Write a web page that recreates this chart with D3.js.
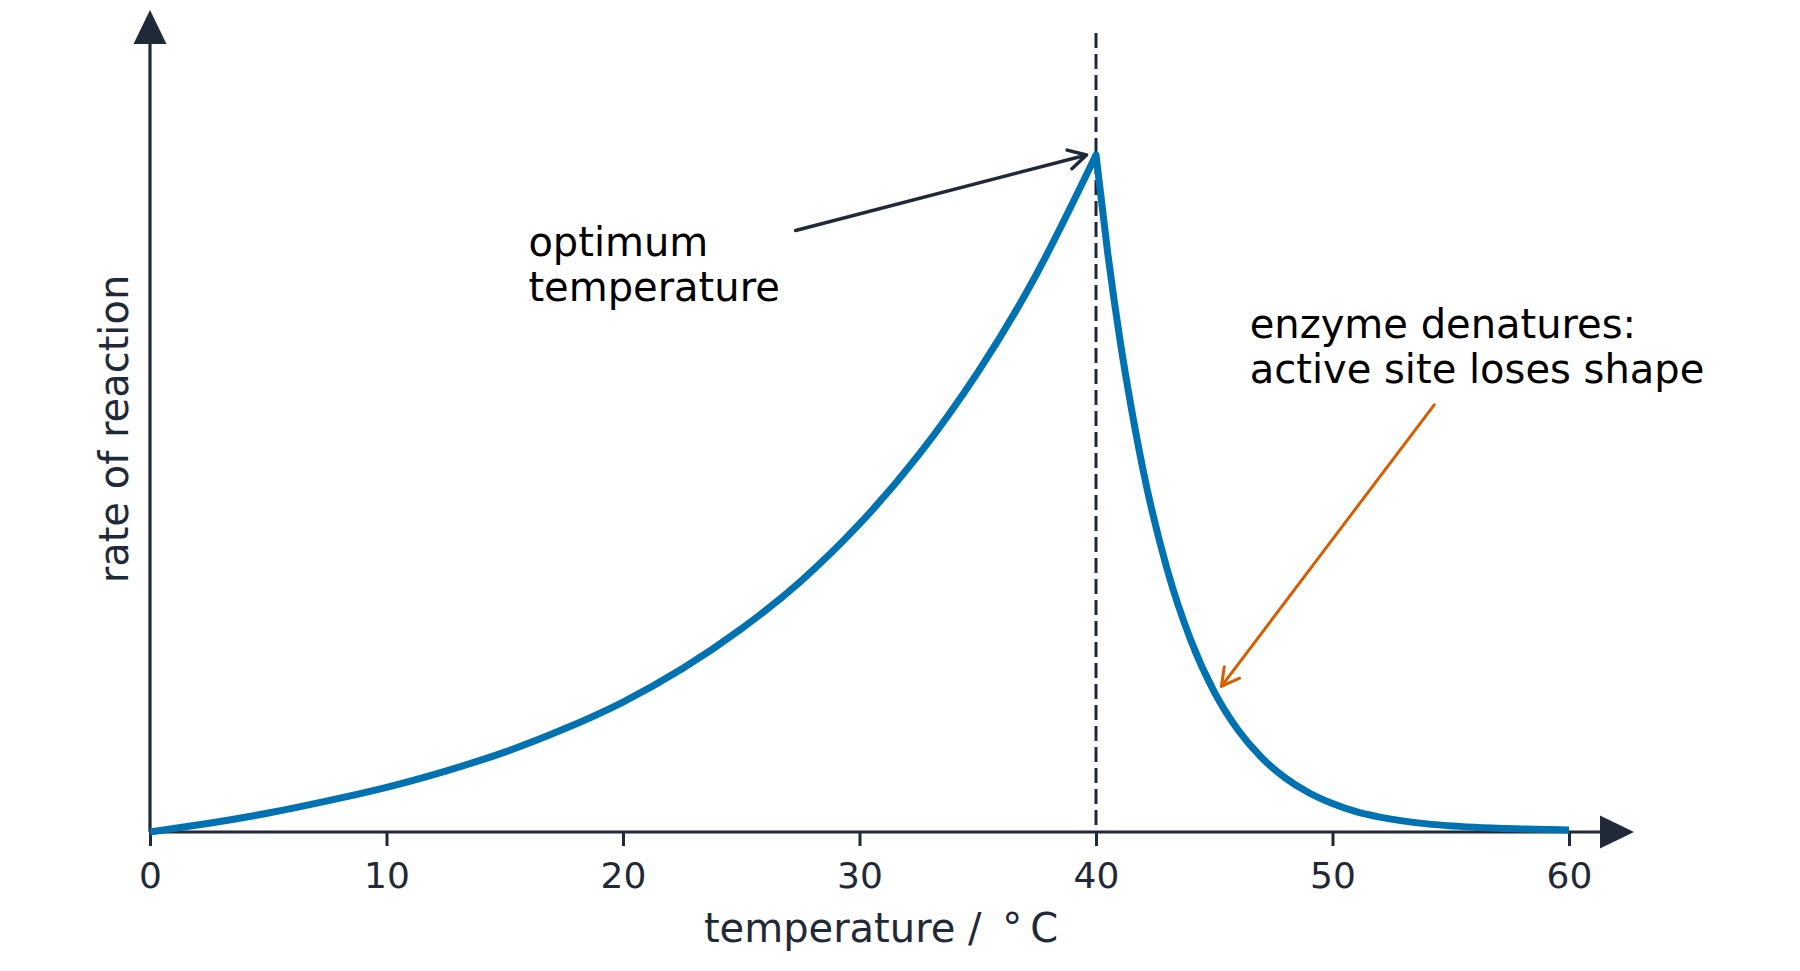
<!DOCTYPE html>
<html lang="en">

<head>
	<meta charset="UTF-8">
	<title>Enzyme activity and temperature</title>
	<script src="https://d3js.org/d3.v7.min.js"></script>
	<style>
		body {
			margin: 0;
			background: #fff;
		}

		text {
			font-family: "DejaVu Sans", sans-serif;
		}
	</style>
</head>

<body>

	<div id="chart"></div>

</body>

<script>

	// temperature (deg C) and rate of reaction (% of the optimum)
	var riseTemp = [0, 2.5, 5, 7.5, 10, 12.5, 15, 17.5, 20, 22.5, 25, 27.5, 30, 32.5, 35, 37.5, 40];
	var riseRate = [0, 1.3, 2.8, 4.6, 6.6, 9.0, 11.8, 15.2, 19.2, 24.1, 30.0, 37.0, 45.5, 55.7, 67.9, 82.5, 100];

	var fallTemp = [40, 40.5, 41, 41.5, 42, 43, 44, 45, 46, 47, 48, 49, 50, 51, 52, 54, 56, 58, 60];
	var fallRate = [100, 85.4, 73, 62.5, 53.3, 38.9, 28.4, 20.7, 15.1, 11.0, 8.0, 5.8, 4.2, 3.0, 2.2, 1.2, 0.7, 0.45, 0.3];

	var xTicks = [0, 10, 20, 30, 40, 50, 60];
	var optimumTemp = 40;

	// annotations, in data units
	var optLabel = ["optimum", "temperature"];
	var optText = [16.0, 85.1];
	var optArrow = [[27.3, 88.85], [39.6, 100]];

	var denLabel = ["enzyme denatures:", "active site loses shape"];
	var denText = [46.5, 73];
	var denArrow = [[54.3, 63.1], [45.3, 21.5]];

	var w = 1800;
	var h = 971;
	var ink = "#1f2937";

	var svg = d3.select("#chart").append("svg")
		.attr("width", w)
		.attr("height", h);

	var x = d3.scaleLinear()
		.domain([0, 60])
		.range([150, 1569]);
	var y = d3.scaleLinear()
		.domain([0, 100])
		.range([832, 155]);

	// x axis with ticks, line drawn separately so it can run into the arrow
	var xAxis = svg.append("g")
		.attr("transform", "translate(0," + y(0) + ")")
		.call(d3.axisBottom(x)
			.tickValues(xTicks)
			.tickSize(14)
			.tickSizeOuter(0)
			.tickPadding(16));
	xAxis.select(".domain").remove();
	xAxis.selectAll(".tick line")
		.attr("stroke", ink)
		.attr("stroke-width", 3);
	xAxis.selectAll(".tick text")
		.attr("fill", ink)
		.style("font-size", "36px")
		.style("font-family", "DejaVu Sans");

	var xEnd = x(60) + 31;
	svg.append("line")
		.attr("x1", x(0)).attr("y1", y(0))
		.attr("x2", xEnd).attr("y2", y(0))
		.attr("stroke", ink)
		.attr("stroke-width", 3.2);
	svg.append("path")
		.attr("d", "M" + xEnd + "," + (y(0) - 16.5) + "L" + (xEnd + 34) + "," + y(0) + "L" + xEnd + "," + (y(0) + 16.5) + "Z")
		.attr("fill", ink);

	var yEnd = 44;
	svg.append("line")
		.attr("x1", x(0)).attr("y1", y(0))
		.attr("x2", x(0)).attr("y2", yEnd)
		.attr("stroke", ink)
		.attr("stroke-width", 3.2);
	svg.append("path")
		.attr("d", "M" + (x(0) - 16.5) + "," + yEnd + "L" + x(0) + "," + (yEnd - 34) + "L" + (x(0) + 16.5) + "," + yEnd + "Z")
		.attr("fill", ink);

	// dashed line at the optimum
	svg.append("line")
		.attr("x1", x(optimumTemp)).attr("y1", 33)
		.attr("x2", x(optimumTemp)).attr("y2", y(0))
		.attr("stroke", ink)
		.attr("stroke-width", 3)
		.attr("stroke-dasharray", "15,6");

	// curve, two branches so the peak stays sharp
	var riseLine = d3.line()
		.x(function (d) { return x(d[0]); })
		.y(function (d) { return y(d[1]); })
		.curve(d3.curveNatural);
	var fallLine = d3.line()
		.x(function (d) { return x(d[0]); })
		.y(function (d) { return y(d[1]); })
		.curve(d3.curveMonotoneX);

	var rise = riseTemp.map(function (t, i) { return [t, riseRate[i]]; });
	var fall = fallTemp.map(function (t, i) { return [t, fallRate[i]]; });

	svg.append("path")
		.attr("d", riseLine(rise) + fallLine(fall).replace(/^M/, "L"))
		.attr("fill", "none")
		.attr("stroke", "#0072b2")
		.attr("stroke-width", 7)
		.attr("stroke-linejoin", "round");

	// axis titles
	svg.append("text")
		.attr("x", 881)
		.attr("y", 942)
		.attr("text-anchor", "middle")
		.attr("fill", ink)
		.style("font-size", "40px")
		.text("temperature / \u2009\u00b0\u2009C");

	svg.append("text")
		.attr("transform", "translate(128,429) rotate(-90)")
		.attr("text-anchor", "middle")
		.attr("fill", ink)
		.style("font-size", "40px")
		.text("rate of reaction");

	// annotations
	function arrow(pts, colour, width) {
		var x1 = x(pts[0][0]), y1 = y(pts[0][1]);
		var x2 = x(pts[1][0]), y2 = y(pts[1][1]);
		var a = Math.atan2(y2 - y1, x2 - x1);
		var len = 20, spread = 0.5;
		var p1 = [x2 - len * Math.cos(a - spread), y2 - len * Math.sin(a - spread)];
		var p2 = [x2 - len * Math.cos(a + spread), y2 - len * Math.sin(a + spread)];
		svg.append("path")
			.attr("d", "M" + x1 + "," + y1 + "L" + x2 + "," + y2 +
				"M" + p1[0] + "," + p1[1] + "L" + x2 + "," + y2 + "L" + p2[0] + "," + p2[1])
			.attr("fill", "none")
			.attr("stroke", colour)
			.attr("stroke-width", width)
			.attr("stroke-linecap", "round")
			.attr("stroke-linejoin", "round");
	}

	function label(lines, pos) {
		svg.append("text")
			.attr("x", x(pos[0]))
			.attr("y", y(pos[1]))
			.attr("fill", "#000")
			.style("font-size", "40px")
			.selectAll("tspan")
			.data(lines)
			.enter()
			.append("tspan")
			.attr("x", x(pos[0]))
			.attr("dy", function (d, i) { return i === 0 ? 0 : 45; })
			.text(function (d) { return d; });
	}

	arrow(optArrow, ink, 3.5);
	arrow(denArrow, "#d55e00", 3);
	label(optLabel, optText);
	label(denLabel, denText);

</script>

</html>
